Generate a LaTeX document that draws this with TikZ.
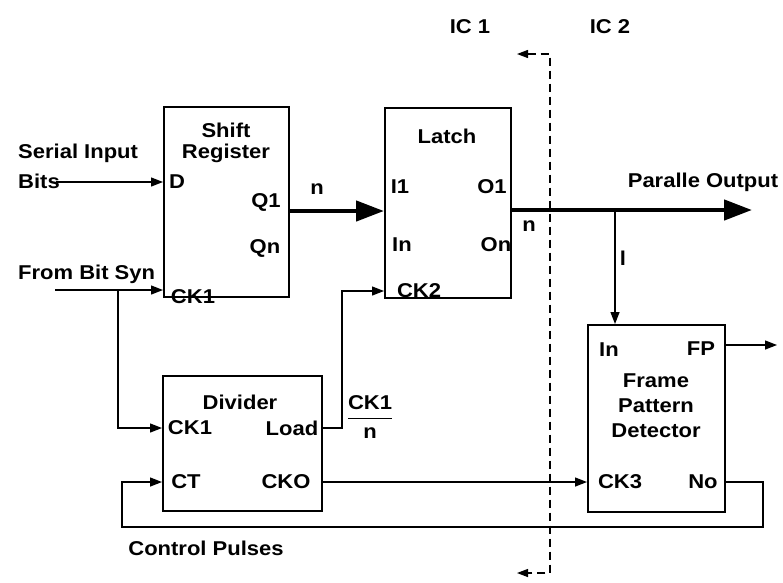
\documentclass[tikz,border=0pt]{standalone}
\usepackage{fontspec}
\setmainfont{Liberation Sans}[FakeStretch=1.1]
\usetikzlibrary{arrows.meta}
\begin{document}
\begin{tikzpicture}[x=1pt,y=-1pt,
 lbl/.style={font=\fontsize{20}{21}\selectfont\bfseries, inner sep=0pt},
 blk/.style={draw, line width=1.7pt, inner sep=0pt, anchor=north west},
 wire/.style={line width=1.3pt},
 arr/.style={wire, -{Triangle[length=12pt,width=9pt]}},
 bus/.style={line width=4.5pt, -{Triangle[length=28pt,width=20pt]}},
 cut/.style={wire, dashed, dash pattern=on 8pt off 5pt, {Triangle[length=11pt,width=8pt]}-{Triangle[length=11pt,width=8pt]}}]
\useasboundingbox (0,0) rectangle (783,582);
% blocks
\node[blk, minimum width=125pt, minimum height=190pt] (sr) at (163,106) {};
\node[blk, minimum width=126pt, minimum height=190pt] (la) at (384,107) {};
\node[blk, minimum width=159pt, minimum height=135pt] (dv) at (162,375) {};
\node[blk, minimum width=137pt, minimum height=187pt] (fp) at (587,324) {};
% ports and bends
\coordinate (srD) at (163,182);
\coordinate (srCK) at (163,290);
\coordinate (srQ) at (288,211);
\coordinate (laI) at (384,211);
\coordinate (laCK) at (384,291);
\coordinate (laO) at (510,210);
\coordinate (dvCK) at (162,428);
\coordinate (dvLd) at (321,428);
\coordinate (dvCT) at (162,482);
\coordinate (dvCO) at (321,482);
\coordinate (fpIn) at (615,324);
\coordinate (fpFP) at (724,345);
\coordinate (fpCK) at (587,482);
\coordinate (fpNo) at (724,482);
\coordinate (sib) at (56,182);
\coordinate (bsy) at (55,290);
\coordinate (j1) at (118,290);
\coordinate (c2) at (342,428);
\coordinate (pend) at (752,210);
\coordinate (j2) at (615,210);
\coordinate (fpe) at (777,345);
\coordinate (r1) at (763,482);
\coordinate (r2) at (763,527);
\coordinate (r3) at (122,527);
\coordinate (d0) at (517,54);
\coordinate (d1) at (550,54);
\coordinate (d2) at (550,573);
\coordinate (d3) at (517,573);
% connectors
\draw[arr] (sib) -- (srD);
\draw[arr] (bsy) -- (srCK);
\draw[arr] (j1) |- (dvCK);
\draw[arr] (dvLd) -- (c2) |- (laCK);
\draw[bus] (srQ) -- (laI);
\draw[bus] (laO) -- (pend);
\draw[arr] (j2) -- (fpIn);
\draw[arr] (fpFP) -- (fpe);
\draw[arr] (dvCO) -- (fpCK);
\draw[arr] (fpNo) -- (r1) -- (r2) -- (r3) |- (dvCT);
\draw[cut] (d0) -- (d1) -- (d2) -- (d3);
% labels
\node[lbl] (ic1) at (470,27) {IC 1};
\node[lbl] (ic2) at (610,27) {IC 2};
\node[lbl, anchor=west] (t1) at (18,153) {Serial Input};
\node[lbl, anchor=west] (t2) at (18,181) {Bits};
\node[lbl, anchor=west] (t3) at (18,274) {From Bit Syn};
\node[lbl] (s1) at (226,130) {Shift};
\node[lbl] (s2) at (226,153) {Register};
\node[lbl] (s3) at (177,182) {D};
\node[lbl] (s4) at (266,202) {Q1};
\node[lbl] (s5) at (265,248) {Qn};
\node[lbl] (s6) at (193,297) {CK1};
\node[lbl] (n1) at (317,189) {n};
\node[lbl] (l1) at (447,136) {Latch};
\node[lbl] (l2) at (400,187) {I1};
\node[lbl] (l3) at (492,187) {O1};
\node[lbl] (l4) at (402,245) {In};
\node[lbl] (l5) at (496,245) {On};
\node[lbl] (l6) at (419,291) {CK2};
\node[lbl] (po) at (703,182) {Paralle Output};
\node[lbl] (n2) at (529,226) {n};
\node[lbl] (n3) at (623,258) {l};
\node[lbl] (f1) at (609,350) {In};
\node[lbl] (f2) at (701,349) {FP};
\node[lbl] (f3) at (656,381) {Frame};
\node[lbl] (f4) at (656,406) {Pattern};
\node[lbl] (f5) at (656,431) {Detector};
\node[lbl] (f6) at (620,482) {CK3};
\node[lbl] (f7) at (703,482) {No};
\node[lbl] (v1) at (240,402) {Divider};
\node[lbl] (v2) at (190,428) {CK1};
\node[lbl] (v3) at (292,428) {Load};
\node[lbl] (v4) at (186,482) {CT};
\node[lbl] (v5) at (286,482) {CKO};
\node[lbl] (fr) at (370,420) {\begin{tabular}{@{}c@{}}\rule[-8pt]{0pt}{8pt}CK1\\\hline\rule{0pt}{21pt}n\end{tabular}};
\node[lbl] (cp) at (206,548) {Control Pulses};
\end{tikzpicture}
\end{document}
